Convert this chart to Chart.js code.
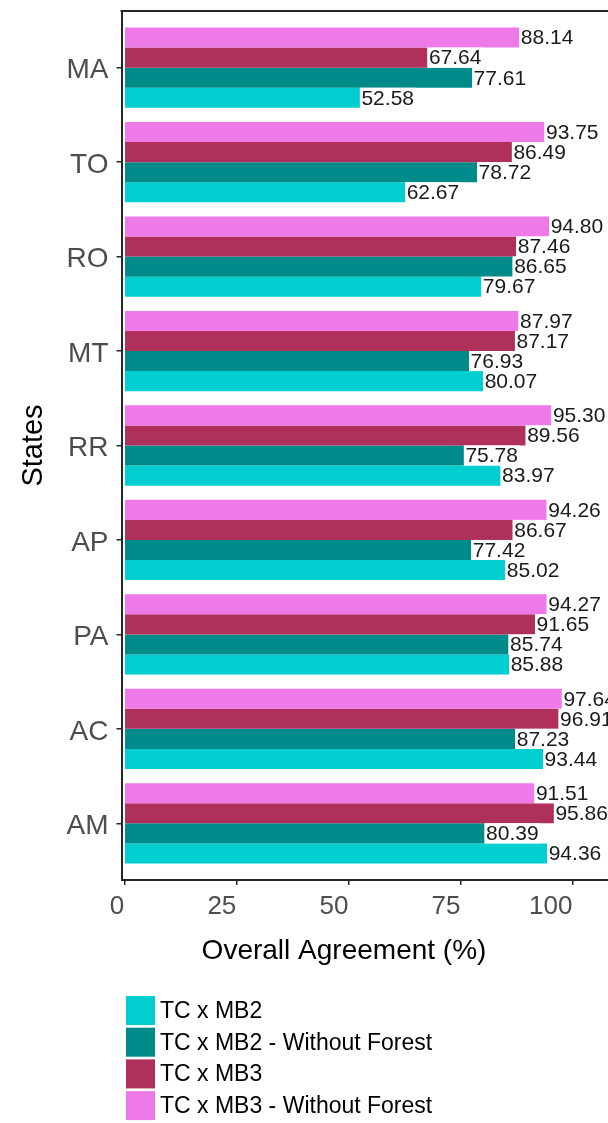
<!DOCTYPE html>
<html>
<head>
<meta charset="utf-8">
<script src="https://cdn.jsdelivr.net/npm/chart.js@4.4.1/dist/chart.umd.min.js"></script>
<style>
  html, body { margin: 0; padding: 0; background: #fff; overflow: hidden; }
  #wrap { width: 608px; height: 1123px; overflow: hidden; }
  canvas { display: block; }
</style>
</head>
<body>
<div id="wrap"><canvas id="agreeChart" width="660" height="1123"></canvas></div>
<script>
// ── Data ──────────────────────────────────────────────────────────────────────
const states      = ["MA", "TO", "RO", "MT", "RR", "AP", "PA", "AC", "AM"];
const mb3NoForest = [88.14, 93.75, 94.80, 87.97, 95.30, 94.26, 94.27, 97.64, 91.51];
const mb3         = [67.64, 86.49, 87.46, 87.17, 89.56, 86.67, 91.65, 96.91, 95.86];
const mb2NoForest = [77.61, 78.72, 86.65, 76.93, 75.78, 77.42, 85.74, 87.23, 80.39];
const mb2         = [52.58, 62.67, 79.67, 80.07, 83.97, 85.02, 85.88, 93.44, 94.36];
const xTicks      = [0, 25, 50, 75, 100];

const FONT = "'Liberation Sans', Arial, sans-serif";
const AXIS_DARK = "#262626";

// ── Value labels on white boxes, just past each bar end ───────────────────────
const barLabels = {
    id: "barLabels",
    afterDatasetsDraw(chart) {
        const ctx = chart.ctx;
        ctx.save();
        ctx.font = "21px " + FONT;
        ctx.textBaseline = "middle";
        ctx.textAlign = "left";
        chart.data.datasets.forEach((ds, di) => {
            chart.getDatasetMeta(di).data.forEach((bar, i) => {
                const txt = ds.data[i].toFixed(2);
                const w = ctx.measureText(txt).width;
                const h = bar.height;
                ctx.fillStyle = "#fff";
                ctx.fillRect(bar.x, bar.y - h / 2, w + 3, h);
                ctx.fillStyle = "#1a1a1a";
                ctx.fillText(txt, bar.x + 1.5, bar.y + 1);
            });
        });
        ctx.restore();
    }
};

// ── Panel top edge, x title and the stacked legend ───────────────────────────
const frameAndLegend = {
    id: "frameAndLegend",
    afterDraw(chart) {
        const { ctx, chartArea } = chart;
        ctx.save();
        ctx.strokeStyle = AXIS_DARK;
        ctx.lineWidth = 2;
        ctx.beginPath();
        ctx.moveTo(chartArea.left - 1, chartArea.top);
        ctx.lineTo(chartArea.right, chartArea.top);
        ctx.stroke();

        ctx.fillStyle = "#000";
        ctx.font = "28px " + FONT;
        ctx.textAlign = "center";
        ctx.textBaseline = "alphabetic";
        ctx.fillText("Overall Agreement (%)", 344, 959);

        // legend runs bottom-to-top of the dodge order
        const items = [...chart.data.datasets].reverse();
        ctx.font = "23px " + FONT;
        ctx.textAlign = "left";
        ctx.textBaseline = "middle";
        items.forEach((ds, i) => {
            const y = 996 + i * 31.7;
            ctx.fillStyle = ds.backgroundColor;
            ctx.fillRect(126, y, 29, 29);
            ctx.fillStyle = "#000";
            ctx.fillText(ds.label, 160, y + 15.5);
        });
        ctx.restore();
    }
};

// ── Chart ─────────────────────────────────────────────────────────────────────
new Chart(document.getElementById("agreeChart"), {
    type: "bar",
    data: {
        labels: states,
        datasets: [
            { label: "TC x MB3 - Without Forest", data: mb3NoForest, backgroundColor: "#EE7AE9" },
            { label: "TC x MB3",                  data: mb3,         backgroundColor: "#B0305C" },
            { label: "TC x MB2 - Without Forest", data: mb2NoForest, backgroundColor: "#008B8B" },
            { label: "TC x MB2",                  data: mb2,         backgroundColor: "#00CED1" },
        ],
    },
    options: {
        indexAxis: "y",
        responsive: false,
        animation: false,
        devicePixelRatio: 1,
        layout: { padding: { top: 11, right: 10, left: 0, bottom: 0 } },
        datasets: { bar: { categoryPercentage: 0.85, barPercentage: 1 } },
        plugins: { legend: { display: false }, tooltip: { enabled: false } },
        scales: {
            x: {
                type: "linear",
                min: -0.62,
                max: 117.3,
                afterBuildTicks: s => { s.ticks = xTicks.map(v => ({ value: v })); },
                afterFit: s => { s.height = 1123 - 880; },
                ticks: { font: { size: 26, family: FONT }, color: "#4D4D4D", align: "end", padding: 6 },
                grid: { drawOnChartArea: false, drawTicks: true, tickLength: 5, color: AXIS_DARK, lineWidth: 1.5 },
                border: { display: true, color: AXIS_DARK, width: 2 },
            },
            y: {
                // ggplot-style discrete padding: 0.6 of a step above and below
                afterBuildTicks: s => { s._startValue = -0.6; s._valueRange = states.length - 1 + 1.2; },
                afterFit: s => { s.width = 121.5; s.paddingTop = 0; s.paddingBottom = 0; },
                ticks: { font: { size: 28, family: FONT }, color: "#4D4D4D", padding: 8, labelOffset: 3 },
                grid: { drawOnChartArea: false, drawTicks: true, tickLength: 5, color: AXIS_DARK, lineWidth: 1.5, offset: false },
                border: { display: true, color: AXIS_DARK, width: 2 },
                title: { display: true, text: "States", color: "#000", font: { size: 29, family: FONT }, padding: { top: 17, bottom: 0 } },
            },
        },
    },
    plugins: [barLabels, frameAndLegend],
});
</script>
</body>
</html>
